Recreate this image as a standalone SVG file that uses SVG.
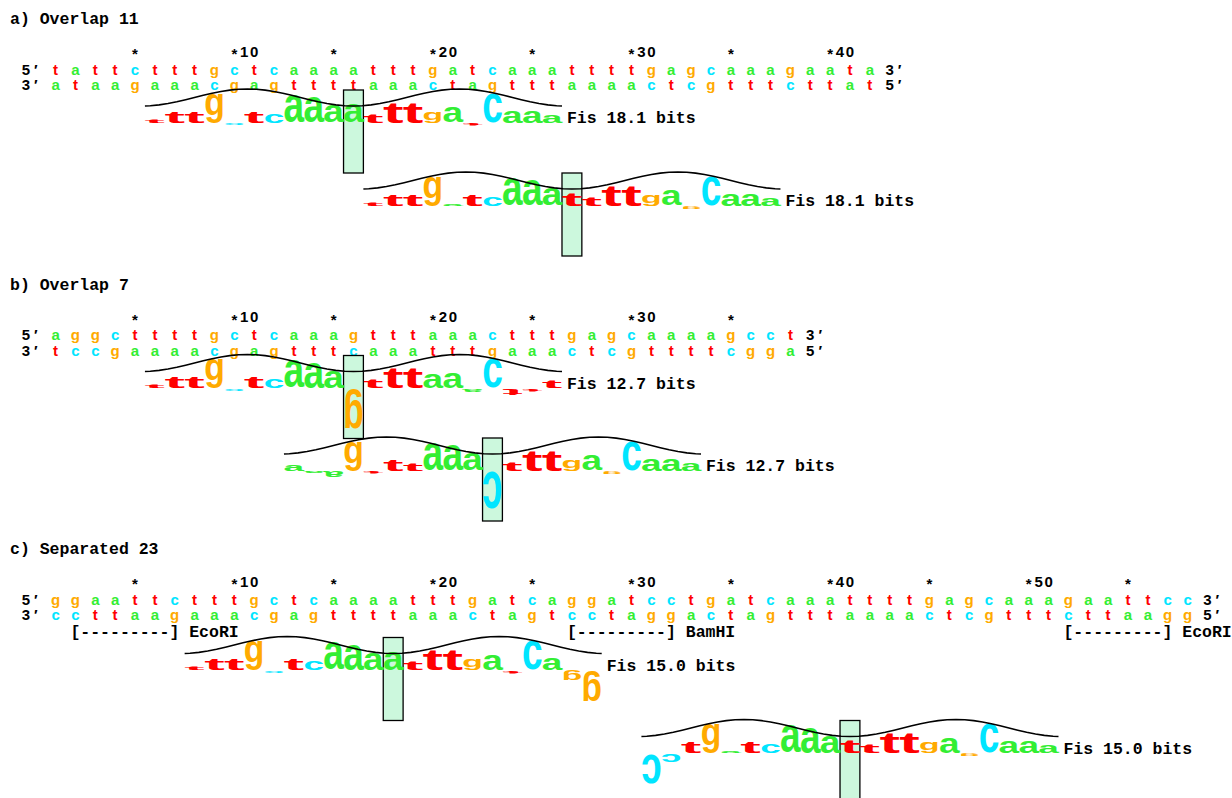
<svg xmlns="http://www.w3.org/2000/svg" width="1232" height="798" viewBox="0 0 1232 798">
<style>
.ttl{font-family:"Liberation Mono","Courier New",monospace;font-weight:bold;font-size:16.5px;fill:#000}
.rul{font-family:"Liberation Sans",Arial,sans-serif;font-weight:bold;font-size:15px;text-anchor:middle;fill:#000}
.seq{font-family:"Liberation Sans",Arial,sans-serif;font-weight:bold;font-size:15px;text-anchor:middle}
.A{fill:#33ee33}.C{fill:#00e5ff}.G{fill:#ffaa00}.T{fill:#ff0000}
.lg{font-family:"Liberation Sans",Arial,sans-serif;font-weight:bold;font-size:20px}
.box{fill:#ccf8dd;stroke:#000;stroke-width:1.3}
.wave{fill:none;stroke:#000;stroke-width:1.6;stroke-linejoin:round}
</style>
<defs>
<rect id="box" class="box" x="198.6" y="-33" width="19.86" height="83"/>
<polyline id="wave" class="wave" points="0,-17.05 5.37,-17.29 14.2,-18.14 23.04,-19.49 31.87,-21.25 40.7,-23.3 49.54,-25.5 58.37,-27.7 67.2,-29.75 76.04,-31.51 84.87,-32.86 93.7,-33.71 102.53,-34 111.37,-33.71 120.2,-32.86 129.03,-31.51 137.87,-29.75 146.7,-27.7 155.53,-25.5 164.37,-23.3 173.2,-21.25 182.03,-19.49 190.87,-18.14 199.7,-17.29 208.53,-17 217.36,-17.29 226.2,-18.14 235.03,-19.49 243.86,-21.25 252.7,-23.3 261.53,-25.5 270.36,-27.7 279.2,-29.75 288.03,-31.51 296.86,-32.86 305.7,-33.71 314.53,-34 323.36,-33.71 332.2,-32.86 341.03,-31.51 349.86,-29.75 358.7,-27.7 367.53,-25.5 376.36,-23.3 385.2,-21.25 394.03,-19.49 402.86,-18.14 411.69,-17.29 417.06,-17.05"/>
<text id="m10t" class="lg T" textLength="20.6" lengthAdjust="spacingAndGlyphs" transform="translate(-0.37,-0.09) scale(1,0.284)">t</text>
<text id="m10a" class="lg A" textLength="20.6" lengthAdjust="spacingAndGlyphs" transform="translate(-0.37,-0.23) scale(1,0.536)">a</text>
<text id="m10c" class="lg C" textLength="20.6" lengthAdjust="spacingAndGlyphs" transform="translate(20.23,1.13) scale(-1,-2.679)">c</text>
<text id="m9t" class="lg T" textLength="20.6" lengthAdjust="spacingAndGlyphs" transform="translate(19.49,-0.26) scale(1,0.851)">t</text>
<text id="m9a" class="lg A" textLength="20.6" lengthAdjust="spacingAndGlyphs" transform="translate(40.09,0.08) scale(-1,-0.179)">a</text>
<text id="m9c" class="lg C" textLength="20.6" lengthAdjust="spacingAndGlyphs" transform="translate(40.09,0.3) scale(-1,-0.714)">c</text>
<text id="m8t" class="lg T" textLength="20.6" lengthAdjust="spacingAndGlyphs" transform="translate(39.35,-0.26) scale(1,0.851)">t</text>
<text id="m8a" class="lg A" textLength="20.6" lengthAdjust="spacingAndGlyphs" transform="translate(59.95,0.23) scale(-1,-0.536)">a</text>
<text id="m7g" class="lg G" textLength="20.6" lengthAdjust="spacingAndGlyphs" transform="translate(59.21,-8.12) scale(1,1.933)">g</text>
<text id="m6c" class="lg C" textLength="20.6" lengthAdjust="spacingAndGlyphs" transform="translate(99.67,0.08) scale(-1,-0.179)">c</text>
<text id="m6a" class="lg A" textLength="20.6" lengthAdjust="spacingAndGlyphs" transform="translate(79.07,-0.06) scale(1,0.134)">a</text>
<text id="m6t" class="lg T" textLength="20.6" lengthAdjust="spacingAndGlyphs" transform="translate(99.67,0.06) scale(-1,-0.213)">t</text>
<text id="m5t" class="lg T" textLength="20.6" lengthAdjust="spacingAndGlyphs" transform="translate(98.93,-0.26) scale(1,0.851)">t</text>
<text id="m4c" class="lg C" textLength="20.6" lengthAdjust="spacingAndGlyphs" transform="translate(118.79,-0.34) scale(1,0.804)">c</text>
<text id="m4t" class="lg T" textLength="20.6" lengthAdjust="spacingAndGlyphs" transform="translate(118.79,-0.17) scale(1,0.567)">t</text>
<text id="m3a" class="lg A" textLength="20.6" lengthAdjust="spacingAndGlyphs" transform="translate(138.65,-1.05) scale(1,2.5)">a</text>
<text id="m2a" class="lg A" textLength="20.6" lengthAdjust="spacingAndGlyphs" transform="translate(158.51,-0.98) scale(1,2.321)">a</text>
<text id="m1a" class="lg A" textLength="20.6" lengthAdjust="spacingAndGlyphs" transform="translate(178.37,-0.68) scale(1,1.607)">a</text>
<text id="z0a" class="lg A" textLength="20.6" lengthAdjust="spacingAndGlyphs" transform="translate(198.23,-0.71) scale(1,1.696)">a</text>
<text id="z0t" class="lg T" textLength="20.6" lengthAdjust="spacingAndGlyphs" transform="translate(198.23,-0.28) scale(1,0.922)">t</text>
<text id="z0g" class="lg G" textLength="20.6" lengthAdjust="spacingAndGlyphs" transform="translate(218.83,11.2) scale(-1,-2.667)">g</text>
<text id="z0c" class="lg C" textLength="20.6" lengthAdjust="spacingAndGlyphs" transform="translate(218.83,1.43) scale(-1,-3.393)">c</text>
<text id="p1t" class="lg T" textLength="20.6" lengthAdjust="spacingAndGlyphs" transform="translate(218.09,-0.19) scale(1,0.638)">t</text>
<text id="p2t" class="lg T" textLength="20.6" lengthAdjust="spacingAndGlyphs" transform="translate(237.95,-0.45) scale(1,1.489)">t</text>
<text id="p3t" class="lg T" textLength="20.6" lengthAdjust="spacingAndGlyphs" transform="translate(257.81,-0.45) scale(1,1.489)">t</text>
<text id="p4g" class="lg G" textLength="20.6" lengthAdjust="spacingAndGlyphs" transform="translate(277.67,-3.08) scale(1,0.733)">g</text>
<text id="p4a" class="lg A" textLength="20.6" lengthAdjust="spacingAndGlyphs" transform="translate(277.67,-0.53) scale(1,1.25)">a</text>
<text id="p5a" class="lg A" textLength="20.6" lengthAdjust="spacingAndGlyphs" transform="translate(297.53,-0.6) scale(1,1.429)">a</text>
<text id="p6t" class="lg T" textLength="20.6" lengthAdjust="spacingAndGlyphs" transform="translate(337.99,0.04) scale(-1,-0.142)">t</text>
<text id="p6g" class="lg G" textLength="20.6" lengthAdjust="spacingAndGlyphs" transform="translate(337.99,0.7) scale(-1,-0.167)">g</text>
<text id="p6a" class="lg A" textLength="20.6" lengthAdjust="spacingAndGlyphs" transform="translate(337.99,0.11) scale(-1,-0.268)">a</text>
<text id="p7c" class="lg C" textLength="20.6" lengthAdjust="spacingAndGlyphs" transform="translate(337.25,-1.13) scale(1,2.679)">c</text>
<text id="p8a" class="lg A" textLength="20.6" lengthAdjust="spacingAndGlyphs" transform="translate(357.11,-0.45) scale(1,1.071)">a</text>
<text id="p8t" class="lg T" textLength="20.6" lengthAdjust="spacingAndGlyphs" transform="translate(377.71,0.15) scale(-1,-0.496)">t</text>
<text id="p9a" class="lg A" textLength="20.6" lengthAdjust="spacingAndGlyphs" transform="translate(376.97,-0.45) scale(1,1.071)">a</text>
<text id="p9t" class="lg T" textLength="20.6" lengthAdjust="spacingAndGlyphs" transform="translate(397.57,0.04) scale(-1,-0.142)">t</text>
<text id="p9g" class="lg G" textLength="20.6" lengthAdjust="spacingAndGlyphs" transform="translate(397.57,2.52) scale(-1,-0.6)">g</text>
<text id="p10a" class="lg A" textLength="20.6" lengthAdjust="spacingAndGlyphs" transform="translate(396.83,-0.3) scale(1,0.714)">a</text>
<text id="p10t" class="lg T" textLength="20.6" lengthAdjust="spacingAndGlyphs" transform="translate(396.83,-0.17) scale(1,0.567)">t</text>
<text id="p10g" class="lg G" textLength="20.6" lengthAdjust="spacingAndGlyphs" transform="translate(417.43,8.4) scale(-1,-2)">g</text>
</defs>
<rect width="1232" height="798" fill="#fff"/>

<g id="panel-a">
<text class="ttl" x="10" y="24">a) Overlap 11</text>
<text class="rul" x="135 234.3 244.2 254.2 333.6 432.9 442.8 452.8 532.2 631.5 641.4 651.4 730.8 830.1 840 850" y="59 59 56.5 56.5 59 59 56.5 56.5 59 59 56.5 56.5 59 59 56.5 56.5">**10**20**30**40</text>
<text class="rul" x="25.8 35.7" y="74.5">5′</text>
<text class="rul" x="889.7 899.6" y="74.5">3′</text>
<text class="rul" x="25.8 35.7" y="90">3′</text>
<text class="rul" x="889.7 899.6" y="90">5′</text>
<text class="seq" y="74.5" x="55.6 75.4 95.3 115.1 135 154.9 174.7 194.6 214.4 234.3 254.2 274 293.9 313.7 333.6 353.5 373.3 393.2 413 432.9 452.8 472.6 492.5 512.3 532.2 552.1 571.9 591.8 611.6 631.5 651.4 671.2 691.1 710.9 730.8 750.7 770.5 790.4 810.2 830.1 850 869.8"><tspan class="T">t</tspan><tspan class="A">a</tspan><tspan class="T">tt</tspan><tspan class="C">c</tspan><tspan class="T">ttt</tspan><tspan class="G">g</tspan><tspan class="C">c</tspan><tspan class="T">t</tspan><tspan class="C">c</tspan><tspan class="A">aaaa</tspan><tspan class="T">ttt</tspan><tspan class="G">g</tspan><tspan class="A">a</tspan><tspan class="T">t</tspan><tspan class="C">c</tspan><tspan class="A">aaa</tspan><tspan class="T">tttt</tspan><tspan class="G">g</tspan><tspan class="A">a</tspan><tspan class="G">g</tspan><tspan class="C">c</tspan><tspan class="A">aaa</tspan><tspan class="G">g</tspan><tspan class="A">aa</tspan><tspan class="T">t</tspan><tspan class="A">a</tspan></text>
<text class="seq" y="90" x="55.6 75.4 95.3 115.1 135 154.9 174.7 194.6 214.4 234.3 254.2 274 293.9 313.7 333.6 353.5 373.3 393.2 413 432.9 452.8 472.6 492.5 512.3 532.2 552.1 571.9 591.8 611.6 631.5 651.4 671.2 691.1 710.9 730.8 750.7 770.5 790.4 810.2 830.1 850 869.8"><tspan class="A">a</tspan><tspan class="T">t</tspan><tspan class="A">aa</tspan><tspan class="G">g</tspan><tspan class="A">aaa</tspan><tspan class="C">c</tspan><tspan class="G">g</tspan><tspan class="A">a</tspan><tspan class="G">g</tspan><tspan class="T">tttt</tspan><tspan class="A">aaa</tspan><tspan class="C">c</tspan><tspan class="T">t</tspan><tspan class="A">a</tspan><tspan class="G">g</tspan><tspan class="T">ttt</tspan><tspan class="A">aaaa</tspan><tspan class="C">c</tspan><tspan class="T">t</tspan><tspan class="C">c</tspan><tspan class="G">g</tspan><tspan class="T">ttt</tspan><tspan class="C">c</tspan><tspan class="T">tt</tspan><tspan class="A">a</tspan><tspan class="T">t</tspan></text>
</g>

<g id="walker-a1" transform="translate(144.93,123)">
<use href="#box"/>
<use href="#m10t"/><use href="#m9t"/><use href="#m8t"/><use href="#m7g"/><use href="#m6c"/><use href="#m5t"/><use href="#m4c"/><use href="#m3a"/><use href="#m2a"/><use href="#m1a"/><use href="#z0a"/><use href="#p1t"/><use href="#p2t"/><use href="#p3t"/><use href="#p4g"/><use href="#p5a"/><use href="#p6t"/><use href="#p7c"/><use href="#p8a"/><use href="#p9a"/><use href="#p10a"/>
<use href="#wave"/>
<text class="ttl" x="422" y="0">Fis 18.1 bits</text>
</g>

<g id="walker-a2" transform="translate(363.39,206)">
<use href="#box"/>
<use href="#m10t"/><use href="#m9t"/><use href="#m8t"/><use href="#m7g"/><use href="#m6a"/><use href="#m5t"/><use href="#m4c"/><use href="#m3a"/><use href="#m2a"/><use href="#m1a"/><use href="#z0t"/><use href="#p1t"/><use href="#p2t"/><use href="#p3t"/><use href="#p4g"/><use href="#p5a"/><use href="#p6g"/><use href="#p7c"/><use href="#p8a"/><use href="#p9a"/><use href="#p10a"/>
<use href="#wave"/>
<text class="ttl" x="422" y="0">Fis 18.1 bits</text>
</g>

<g id="panel-b">
<text class="ttl" x="10" y="289.5">b) Overlap 7</text>
<text class="rul" x="135 234.3 244.2 254.2 333.6 432.9 442.8 452.8 532.2 631.5 641.4 651.4 730.8" y="324.5 324.5 322 322 324.5 324.5 322 322 324.5 324.5 322 322 324.5">**10**20**30*</text>
<text class="rul" x="25.8 35.7" y="340">5′</text>
<text class="rul" x="810.2 820.2" y="340">3′</text>
<text class="rul" x="25.8 35.7" y="355.5">3′</text>
<text class="rul" x="810.2 820.2" y="355.5">5′</text>
<text class="seq" y="340" x="55.6 75.4 95.3 115.1 135 154.9 174.7 194.6 214.4 234.3 254.2 274 293.9 313.7 333.6 353.5 373.3 393.2 413 432.9 452.8 472.6 492.5 512.3 532.2 552.1 571.9 591.8 611.6 631.5 651.4 671.2 691.1 710.9 730.8 750.7 770.5 790.4"><tspan class="A">a</tspan><tspan class="G">gg</tspan><tspan class="C">c</tspan><tspan class="T">tttt</tspan><tspan class="G">g</tspan><tspan class="C">c</tspan><tspan class="T">t</tspan><tspan class="C">c</tspan><tspan class="A">aaa</tspan><tspan class="G">g</tspan><tspan class="T">ttt</tspan><tspan class="A">aaa</tspan><tspan class="C">c</tspan><tspan class="T">ttt</tspan><tspan class="G">g</tspan><tspan class="A">a</tspan><tspan class="G">g</tspan><tspan class="C">c</tspan><tspan class="A">aaaa</tspan><tspan class="G">g</tspan><tspan class="C">cc</tspan><tspan class="T">t</tspan></text>
<text class="seq" y="355.5" x="55.6 75.4 95.3 115.1 135 154.9 174.7 194.6 214.4 234.3 254.2 274 293.9 313.7 333.6 353.5 373.3 393.2 413 432.9 452.8 472.6 492.5 512.3 532.2 552.1 571.9 591.8 611.6 631.5 651.4 671.2 691.1 710.9 730.8 750.7 770.5 790.4"><tspan class="T">t</tspan><tspan class="C">cc</tspan><tspan class="G">g</tspan><tspan class="A">aaaa</tspan><tspan class="C">c</tspan><tspan class="G">g</tspan><tspan class="A">a</tspan><tspan class="G">g</tspan><tspan class="T">ttt</tspan><tspan class="C">c</tspan><tspan class="A">aaa</tspan><tspan class="T">ttt</tspan><tspan class="G">g</tspan><tspan class="A">aaa</tspan><tspan class="C">c</tspan><tspan class="T">t</tspan><tspan class="C">c</tspan><tspan class="G">g</tspan><tspan class="T">tttt</tspan><tspan class="C">c</tspan><tspan class="G">gg</tspan><tspan class="A">a</tspan></text>
</g>

<g id="walker-b1" transform="translate(144.93,388.5)">
<use href="#box"/>
<use href="#m10t"/><use href="#m9t"/><use href="#m8t"/><use href="#m7g"/><use href="#m6c"/><use href="#m5t"/><use href="#m4c"/><use href="#m3a"/><use href="#m2a"/><use href="#m1a"/><use href="#z0g"/><use href="#p1t"/><use href="#p2t"/><use href="#p3t"/><use href="#p4a"/><use href="#p5a"/><use href="#p6a"/><use href="#p7c"/><use href="#p8t"/><use href="#p9t"/><use href="#p10t"/>
<use href="#wave"/>
<text class="ttl" x="422" y="0">Fis 12.7 bits</text>
</g>

<g id="walker-b2" transform="translate(283.95,471)">
<use href="#box"/>
<use href="#m10a"/><use href="#m9a"/><use href="#m8a"/><use href="#m7g"/><use href="#m6t"/><use href="#m5t"/><use href="#m4t"/><use href="#m3a"/><use href="#m2a"/><use href="#m1a"/><use href="#z0c"/><use href="#p1t"/><use href="#p2t"/><use href="#p3t"/><use href="#p4g"/><use href="#p5a"/><use href="#p6g"/><use href="#p7c"/><use href="#p8a"/><use href="#p9a"/><use href="#p10a"/>
<use href="#wave"/>
<text class="ttl" x="422" y="0">Fis 12.7 bits</text>
</g>

<g id="panel-c">
<text class="ttl" x="10" y="554">c) Separated 23</text>
<text class="rul" x="135 234.3 244.2 254.2 333.6 432.9 442.8 452.8 532.2 631.5 641.4 651.4 730.8 830.1 840 850 929.4 1028.7 1038.6 1048.6 1128" y="589 589 586.5 586.5 589 589 586.5 586.5 589 589 586.5 586.5 589 589 586.5 586.5 589 589 586.5 586.5 589">**10**20**30**40**50*</text>
<text class="rul" x="25.8 35.7" y="604.5">5′</text>
<text class="rul" x="1207.4 1217.4" y="604.5">3′</text>
<text class="rul" x="25.8 35.7" y="620">3′</text>
<text class="rul" x="1207.4 1217.4" y="620">5′</text>
<text class="seq" y="604.5" x="55.6 75.4 95.3 115.1 135 154.9 174.7 194.6 214.4 234.3 254.2 274 293.9 313.7 333.6 353.5 373.3 393.2 413 432.9 452.8 472.6 492.5 512.3 532.2 552.1 571.9 591.8 611.6 631.5 651.4 671.2 691.1 710.9 730.8 750.7 770.5 790.4 810.2 830.1 850 869.8 889.7 909.5 929.4 949.3 969.1 989 1008.8 1028.7 1048.6 1068.4 1088.3 1108.1 1128 1147.9 1167.7 1187.6"><tspan class="G">gg</tspan><tspan class="A">aa</tspan><tspan class="T">tt</tspan><tspan class="C">c</tspan><tspan class="T">ttt</tspan><tspan class="G">g</tspan><tspan class="C">c</tspan><tspan class="T">t</tspan><tspan class="C">c</tspan><tspan class="A">aaaa</tspan><tspan class="T">ttt</tspan><tspan class="G">g</tspan><tspan class="A">a</tspan><tspan class="T">t</tspan><tspan class="C">c</tspan><tspan class="A">a</tspan><tspan class="G">gg</tspan><tspan class="A">a</tspan><tspan class="T">t</tspan><tspan class="C">cc</tspan><tspan class="T">t</tspan><tspan class="G">g</tspan><tspan class="A">a</tspan><tspan class="T">t</tspan><tspan class="C">c</tspan><tspan class="A">aaa</tspan><tspan class="T">tttt</tspan><tspan class="G">g</tspan><tspan class="A">a</tspan><tspan class="G">g</tspan><tspan class="C">c</tspan><tspan class="A">aaa</tspan><tspan class="G">g</tspan><tspan class="A">aa</tspan><tspan class="T">tt</tspan><tspan class="C">cc</tspan></text>
<text class="seq" y="620" x="55.6 75.4 95.3 115.1 135 154.9 174.7 194.6 214.4 234.3 254.2 274 293.9 313.7 333.6 353.5 373.3 393.2 413 432.9 452.8 472.6 492.5 512.3 532.2 552.1 571.9 591.8 611.6 631.5 651.4 671.2 691.1 710.9 730.8 750.7 770.5 790.4 810.2 830.1 850 869.8 889.7 909.5 929.4 949.3 969.1 989 1008.8 1028.7 1048.6 1068.4 1088.3 1108.1 1128 1147.9 1167.7 1187.6"><tspan class="C">cc</tspan><tspan class="T">tt</tspan><tspan class="A">aa</tspan><tspan class="G">g</tspan><tspan class="A">aaa</tspan><tspan class="C">c</tspan><tspan class="G">g</tspan><tspan class="A">a</tspan><tspan class="G">g</tspan><tspan class="T">tttt</tspan><tspan class="A">aaa</tspan><tspan class="C">c</tspan><tspan class="T">t</tspan><tspan class="A">a</tspan><tspan class="G">g</tspan><tspan class="T">t</tspan><tspan class="C">cc</tspan><tspan class="T">t</tspan><tspan class="A">a</tspan><tspan class="G">gg</tspan><tspan class="A">a</tspan><tspan class="C">c</tspan><tspan class="T">t</tspan><tspan class="A">a</tspan><tspan class="G">g</tspan><tspan class="T">ttt</tspan><tspan class="A">aaaa</tspan><tspan class="C">c</tspan><tspan class="T">t</tspan><tspan class="C">c</tspan><tspan class="G">g</tspan><tspan class="T">ttt</tspan><tspan class="C">c</tspan><tspan class="T">tt</tspan><tspan class="A">aa</tspan><tspan class="G">gg</tspan></text>
<text class="ttl" x="70.4" y="636.5">[---------] EcoRI</text>
<text class="ttl" x="566.95" y="636.5">[---------] BamHI</text>
<text class="ttl" x="1063.45" y="636.5">[---------] EcoRI</text>
</g>

<g id="walker-c1" transform="translate(184.65,670.5)">
<use href="#box"/>
<use href="#m10t"/><use href="#m9t"/><use href="#m8t"/><use href="#m7g"/><use href="#m6c"/><use href="#m5t"/><use href="#m4c"/><use href="#m3a"/><use href="#m2a"/><use href="#m1a"/><use href="#z0a"/><use href="#p1t"/><use href="#p2t"/><use href="#p3t"/><use href="#p4g"/><use href="#p5a"/><use href="#p6t"/><use href="#p7c"/><use href="#p8a"/><use href="#p9g"/><use href="#p10g"/>
<use href="#wave"/>
<text class="ttl" x="422" y="0">Fis 15.0 bits</text>
</g>

<g id="walker-c2" transform="translate(641.43,753.5)">
<use href="#box"/>
<use href="#m10c"/><use href="#m9c"/><use href="#m8t"/><use href="#m7g"/><use href="#m6a"/><use href="#m5t"/><use href="#m4c"/><use href="#m3a"/><use href="#m2a"/><use href="#m1a"/><use href="#z0t"/><use href="#p1t"/><use href="#p2t"/><use href="#p3t"/><use href="#p4g"/><use href="#p5a"/><use href="#p6g"/><use href="#p7c"/><use href="#p8a"/><use href="#p9a"/><use href="#p10a"/>
<use href="#wave"/>
<text class="ttl" x="422" y="0">Fis 15.0 bits</text>
</g>
</svg>
